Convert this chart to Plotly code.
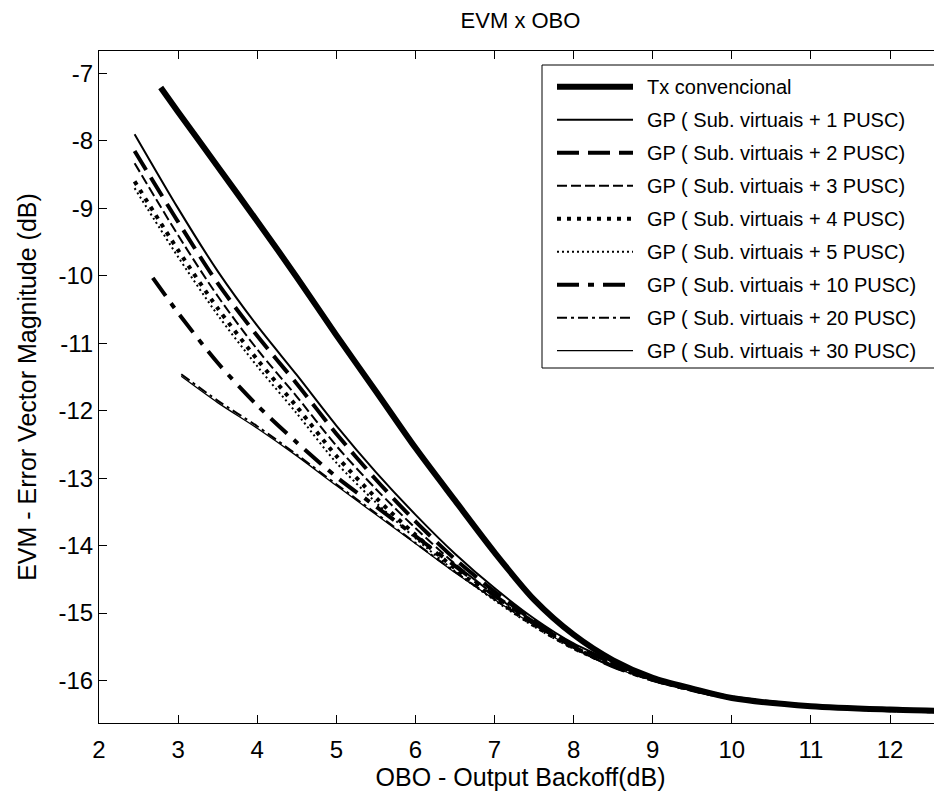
import plotly.graph_objects as go

# ---------------- data ----------------
x_tx = [2.78, 3.0, 3.5, 4.0, 4.5, 5.0, 5.5, 6.0, 6.5, 7.0, 7.5, 8.0, 8.5, 9.0, 9.5, 10, 11, 12, 12.66]
y_tx = [-7.21, -7.57, -8.38, -9.19, -10.02, -10.88, -11.71, -12.55, -13.33, -14.10, -14.80, -15.32, -15.70, -15.96, -16.12, -16.26, -16.38, -16.43, -16.45]

x_gp = [2.45, 3.0, 3.5, 4.0, 4.5, 5.0, 5.5, 6.0, 6.5, 7.0, 7.5, 8.0, 8.5, 9.0, 9.5, 10, 11, 12, 12.66]
y_gp1 = [-7.90, -9.00, -9.93, -10.74, -11.47, -12.22, -12.91, -13.54, -14.12, -14.63, -15.08, -15.45, -15.72, -15.96, -16.13, -16.25, -16.38, -16.43, -16.45]
y_gp2 = [-8.15, -9.20, -10.11, -10.89, -11.60, -12.34, -13.02, -13.64, -14.20, -14.68, -15.12, -15.48, -15.74, -15.97, -16.13, -16.25, -16.38, -16.43, -16.45]
y_gp3 = [-8.33, -9.40, -10.30, -11.09, -11.79, -12.52, -13.16, -13.74, -14.27, -14.73, -15.15, -15.50, -15.75, -15.98, -16.14, -16.25, -16.38, -16.43, -16.45]
y_gp4 = [-8.60, -9.62, -10.48, -11.24, -11.94, -12.67, -13.29, -13.84, -14.34, -14.78, -15.18, -15.52, -15.77, -15.99, -16.14, -16.26, -16.38, -16.44, -16.46]
y_gp5 = [-8.70, -9.72, -10.58, -11.34, -12.04, -12.77, -13.36, -13.89, -14.38, -14.81, -15.20, -15.53, -15.78, -16.00, -16.15, -16.26, -16.39, -16.44, -16.46]

x_gp10 = [2.68, 3.0, 3.5, 4.0, 4.5, 5.0, 5.5, 6.0, 6.5, 7.0, 7.5, 8.0, 8.5, 9.0, 9.5, 10, 11, 12, 12.66]
y_gp10 = [-10.03, -10.55, -11.29, -11.92, -12.47, -12.98, -13.42, -13.86, -14.30, -14.74, -15.14, -15.50, -15.79, -15.99, -16.14, -16.26, -16.38, -16.44, -16.46]

x_gp20 = [3.04, 3.5, 4.0, 4.5, 5.0, 5.5, 6.0, 6.5, 7.0, 7.5, 8.0, 8.5, 9.0, 9.5, 10, 11, 12, 12.66]
y_gp20 = [-11.46, -11.85, -12.23, -12.65, -13.09, -13.52, -13.96, -14.39, -14.79, -15.17, -15.51, -15.80, -16.00, -16.15, -16.27, -16.39, -16.44, -16.46]
y_gp30 = [-11.49, -11.88, -12.26, -12.67, -13.11, -13.54, -13.97, -14.40, -14.80, -15.18, -15.52, -15.80, -16.00, -16.15, -16.27, -16.39, -16.44, -16.46]

series_names = [
    "Tx convencional",
    "GP ( Sub. virtuais + 1 PUSC)",
    "GP ( Sub. virtuais + 2 PUSC)",
    "GP ( Sub. virtuais + 3 PUSC)",
    "GP ( Sub. virtuais + 4 PUSC)",
    "GP ( Sub. virtuais + 5 PUSC)",
    "GP ( Sub. virtuais + 10 PUSC)",
    "GP ( Sub. virtuais + 20 PUSC)",
    "GP ( Sub. virtuais + 30 PUSC)",
]
x_ticks = [2, 3, 4, 5, 6, 7, 8, 9, 10, 11, 12]
x_tick_labels = ["2", "3", "4", "5", "6", "7", "8", "9", "10", "11", "12"]
y_ticks = [-16, -15, -14, -13, -12, -11, -10, -9, -8, -7]
y_tick_labels = ["-16", "-15", "-14", "-13", "-12", "-11", "-10", "-9", "-8", "-7"]

# ---------------- styles ----------------
styles = [
    dict(width=6, dash="solid"),
    dict(width=2, dash="solid"),
    dict(width=4, dash="22px,9px"),
    dict(width=2, dash="10px,4px"),
    dict(width=4, dash="4px,6px"),
    dict(width=2, dash="2px,3px"),
    dict(width=4, dash="22px,9px,6px,9px"),
    dict(width=2, dash="10px,4px,3px,4px"),
    dict(width=1.3, dash="solid"),
]
xs = [x_tx, x_gp, x_gp, x_gp, x_gp, x_gp, x_gp10, x_gp20, x_gp20]
ys = [y_tx, y_gp1, y_gp2, y_gp3, y_gp4, y_gp5, y_gp10, y_gp20, y_gp30]

# the page body adds an 8 px offset, so the figure is 8 px smaller
OFF = 8
W, H = 942 - OFF, 793 - OFF
ML, MR, MT, MB = 99 - OFF, 0, 51 - OFF, 70
PW, PH = W - ML - MR, H - MT - MB

fig = go.Figure()
for name, xv, yv, st in zip(series_names, xs, ys, styles):
    fig.add_trace(go.Scatter(
        x=xv, y=yv, mode="lines", name=name, showlegend=False,
        line=dict(color="black", width=st["width"], dash=st["dash"],
                  shape="spline", smoothing=0.8),
    ))

# page pixel -> paper coordinates
def px(xp):
    return (xp - OFF - ML) / PW

def py(yp):
    return (H - MB - (yp - OFF)) / PH

FONT = "Liberation Sans, Arial, sans-serif"

# manual legend (MATLAB style)
shapes = [dict(type="rect", xref="paper", yref="paper",
               x0=px(542), x1=px(937), y0=py(368), y1=py(65),
               line=dict(color="black", width=1), fillcolor="white", layer="above")]
annotations = []
for i, (name, st) in enumerate(zip(series_names, styles)):
    yc = 86.7 + 33 * i
    shapes.append(dict(type="line", xref="paper", yref="paper",
                       x0=px(557), x1=px(633), y0=py(yc), y1=py(yc),
                       line=dict(color="black", width=st["width"], dash=st["dash"]),
                       layer="above"))
    annotations.append(dict(xref="paper", yref="paper", x=px(645), y=py(yc),
                            xanchor="left", yanchor="middle", text=name, showarrow=False,
                            font=dict(family=FONT, size=20, color="black")))

fig.update_layout(
    width=W, height=H,
    margin=dict(l=ML, r=MR, t=MT, b=MB, autoexpand=False),
    paper_bgcolor="white", plot_bgcolor="white",
    title=dict(text="EVM x OBO", x=(ML + PW / 2) / W,
               xanchor="center", y=1 - 12 / H, yanchor="middle", yref="container",
               font=dict(family=FONT, size=22, color="black")),
    font=dict(family=FONT, color="black"),
    shapes=shapes, annotations=annotations,
    showlegend=False,
)
fig.update_xaxes(
    range=[2, 2 + PW / 79.1], tickvals=x_ticks, ticktext=x_tick_labels,
    ticks="inside", ticklen=8, automargin=False, ticklabelstandoff=5,
    tickwidth=1, tickcolor="black", showline=True, linecolor="black", linewidth=1,
    mirror="ticks", showgrid=False, zeroline=False,
    tickfont=dict(family=FONT, size=24, color="black"),
    title=dict(text="OBO - Output Backoff(dB)", standoff=4,
               font=dict(family=FONT, size=25, color="black")),
)
fig.update_yaxes(
    range=[-16.63, -16.63 + PH / 67.45], tickvals=y_ticks, ticktext=y_tick_labels,
    ticks="inside", ticklen=8, automargin=False,
    tickwidth=1, tickcolor="black", showline=True, linecolor="black", linewidth=1,
    mirror=False, showgrid=False, zeroline=False,
    tickfont=dict(family=FONT, size=24, color="black"),
    title=dict(text="EVM - Error Vector Magnitude (dB)", standoff=14,
               font=dict(family=FONT, size=25, color="black")),
)

fig.write_html("out.html")
